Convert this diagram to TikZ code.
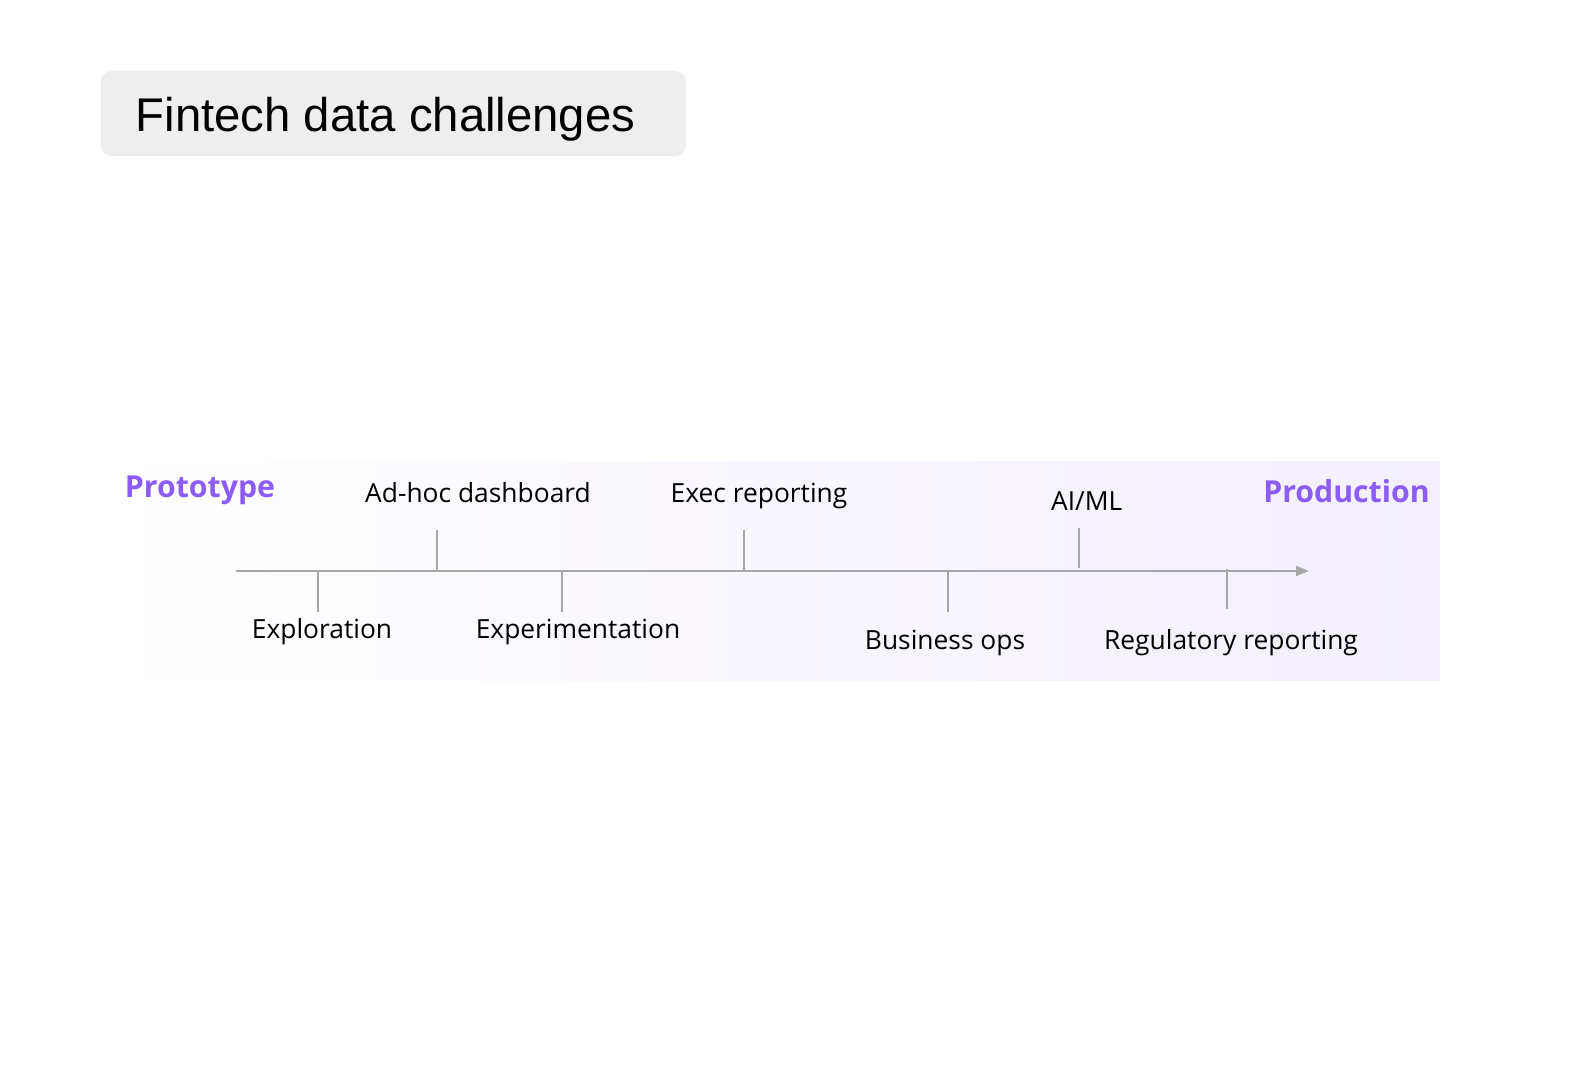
\documentclass[tikz,border=0pt]{standalone}
\usepackage{fontspec}
\usepackage{xcolor}
\usetikzlibrary{arrows.meta}
\setmainfont{Open Sans}
\newfontfamily\titlefont{Liberation Sans}

\definecolor{stagepurple}{HTML}{8B5CF6}
\definecolor{axisgray}{HTML}{A6A6A6}
\definecolor{titlegray}{HTML}{EEEEEE}
\definecolor{bandpurple}{HTML}{F3EFFD}

\begin{document}
\begin{tikzpicture}[x=0.01cm,y=-0.01cm,
    stage/.style={anchor=base, text=stagepurple, font=\fontsize{8.6pt}{10pt}\selectfont\bfseries, inner sep=0pt},
    usecase/.style={anchor=base, font=\fontsize{7.5pt}{9pt}\selectfont, inner sep=0pt},
    tick/.style={draw=axisgray, line width=0.57pt}]
                        \useasboundingbox (0,0) rectangle (1576,1092);
                        \shade [left color=white, right color=bandpurple] (100,462) rectangle (1440,681);
                        \fill [titlegray, rounded corners=3pt] (101,71) rectangle (686,156);
                        \node (title) [anchor=base west, inner sep=0pt, font=\titlefont\fontsize{13.45pt}{16pt}\selectfont] at (135,131.7) {Fintech data challenges};

                        \node (proto) [stage] at (200,497.7) {Prototype};
                        \node (prod) [stage] at (1346.5,502.7) {Production};

                        \coordinate (start) at (236,571);
                        \coordinate (end) at (1309,571);
                        \draw [tick, -{Triangle[length=3.7pt,width=2.8pt]}] (start) -- (end);

                        % ticks below the axis
                        \coordinate (t1) at (318,571); \coordinate (b1) at (318,612);
                        \coordinate (t3) at (562,571); \coordinate (b3) at (562,612);
                        \coordinate (t5) at (948,571); \coordinate (b5) at (948,612);
                        \coordinate (t7) at (1227,569); \coordinate (b7) at (1227,609);
                        % ticks above the axis
                        \coordinate (t2) at (437,530); \coordinate (b2) at (437,571);
                        \coordinate (t4) at (744,530); \coordinate (b4) at (744,571);
                        \coordinate (t6) at (1079,528); \coordinate (b6) at (1079,568);

                        \draw [tick] (t1) -- (b1) (t2) -- (b2) (t3) -- (b3) (t4) -- (b4);
                        \draw [tick] (t5) -- (b5) (t6) -- (b6) (t7) -- (b7);

                        \node (explo) [usecase] at (322,638.3) {Exploration};
                        \node (adhoc) [usecase] at (478,502.3) {Ad-hoc dashboard};
                        \node (exper) [usecase] at (578,638.3) {Experimentation};
                        \node (execrep) [usecase] at (759,502.3) {Exec reporting};
                        \node (bizops) [usecase] at (945,649.3) {Business ops};
                        \node (aiml) [usecase] at (1086.7,511) {AI/ML};
                        \node (regrep) [usecase] at (1231,649.3) {Regulatory reporting};

                    \end{tikzpicture}
\end{document}
